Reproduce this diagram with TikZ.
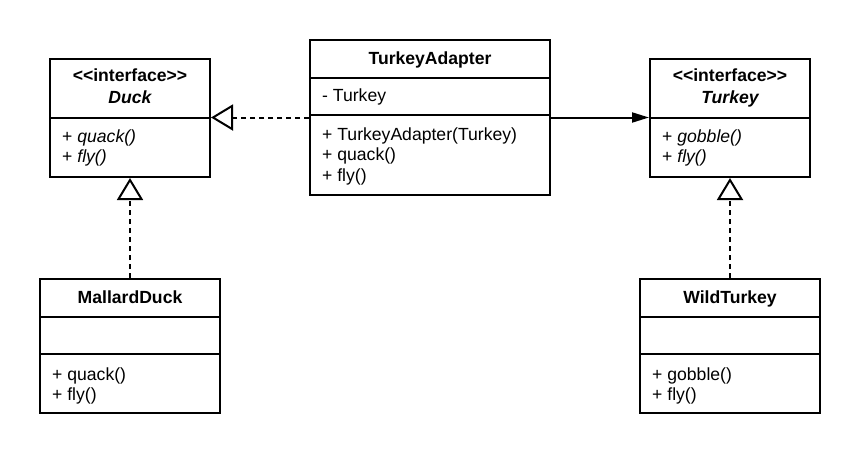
\documentclass[tikz,border=0pt]{standalone}
\usepackage{fontspec}
\setmainfont{Liberation Sans}
\usetikzlibrary{arrows.meta}
\newcommand{\stereo}[1]{<\kern0pt<#1>\kern0pt>}
\begin{document}
\begin{tikzpicture}[x=1pt,y=-1pt,
  every node/.style={font=\fontsize{17.6}{20.5}\selectfont, inner sep=0pt},
  box/.style={draw=black, line width=2pt, fill=white, rectangle},
  divider/.style={draw=black, line width=2pt},
  txt/.style={anchor=base west},
  ttl/.style={anchor=base, font=\fontsize{17.6}{20.5}\selectfont\bfseries},
  realize/.style={draw=black, line width=2pt, dash pattern=on 5pt off 4pt,
     -{Triangle[open, length=22pt, width=26pt, line width=2pt]}},
  assoc/.style={draw=black, line width=2pt, -{Triangle[length=17pt, width=10pt]}}]
\useasboundingbox (0,0) rectangle (860,453);

% Duck interface
\node[box, minimum width=160pt, minimum height=118pt] (duck) at (130,118) {};
\draw[divider] (50,118) -- (210,118);
\node[ttl] (duckst) at (130,81) {\stereo{interface}};
\node[ttl, font=\fontsize{17.6}{20.5}\selectfont\bfseries\itshape] (duckn) at (130,103) {Duck};
\node[txt] (duckm1) at (62,142) {+ \textit{quack()}};
\node[txt] (duckm2) at (62,162) {+ \textit{fly()}};

% TurkeyAdapter
\node[box, minimum width=240pt, minimum height=155pt] (adapter) at (430,117.5) {};
\draw[divider] (310,78) -- (550,78);
\draw[divider] (310,115) -- (550,115);
\node[ttl] (adaptn) at (430,64) {TurkeyAdapter};
\node[txt] (adapta) at (322,101) {- Turkey};
\node[txt] (adaptm1) at (322,140) {+ TurkeyAdapter(Turkey)};
\node[txt] (adaptm2) at (322,160.5) {+ quack()};
\node[txt] (adaptm3) at (322,181) {+ fly()};

% Turkey interface
\node[box, minimum width=160pt, minimum height=118pt] (turkey) at (730,118) {};
\draw[divider] (650,118) -- (810,118);
\node[ttl] (turkeyst) at (730,81) {\stereo{interface}};
\node[ttl, font=\fontsize{17.6}{20.5}\selectfont\bfseries\itshape] (turkeyn) at (730,103) {Turkey};
\node[txt] (turkeym1) at (662,142) {+ \textit{gobble()}};
\node[txt] (turkeym2) at (662,162) {+ \textit{fly()}};

% MallardDuck
\node[box, minimum width=180pt, minimum height=134pt] (mallard) at (130,346) {};
\draw[divider] (40,317) -- (220,317);
\node[ttl] (mallardn) at (130,303) {MallardDuck};
\draw[divider] (40,354) -- (220,354);
\node[txt] (mallardm1) at (52,380) {+ quack()};
\node[txt] (mallardm2) at (52,400) {+ fly()};

% WildTurkey
\node[box, minimum width=180pt, minimum height=134pt] (wild) at (730,346) {};
\draw[divider] (640,317) -- (820,317);
\node[ttl] (wildn) at (730,303) {WildTurkey};
\draw[divider] (640,354) -- (820,354);
\node[txt] (wildm1) at (652,380) {+ gobble()};
\node[txt] (wildm2) at (652,400) {+ fly()};

% connectors
\draw[realize] (adapter.west) -- (duck.east |- adapter.west);
\draw[assoc] (adapter.east) -- (turkey.west |- adapter.east);
\draw[realize] (mallard.north) -- (duck.south);
\draw[realize] (wild.north) -- (turkey.south);
\end{tikzpicture}
\end{document}
